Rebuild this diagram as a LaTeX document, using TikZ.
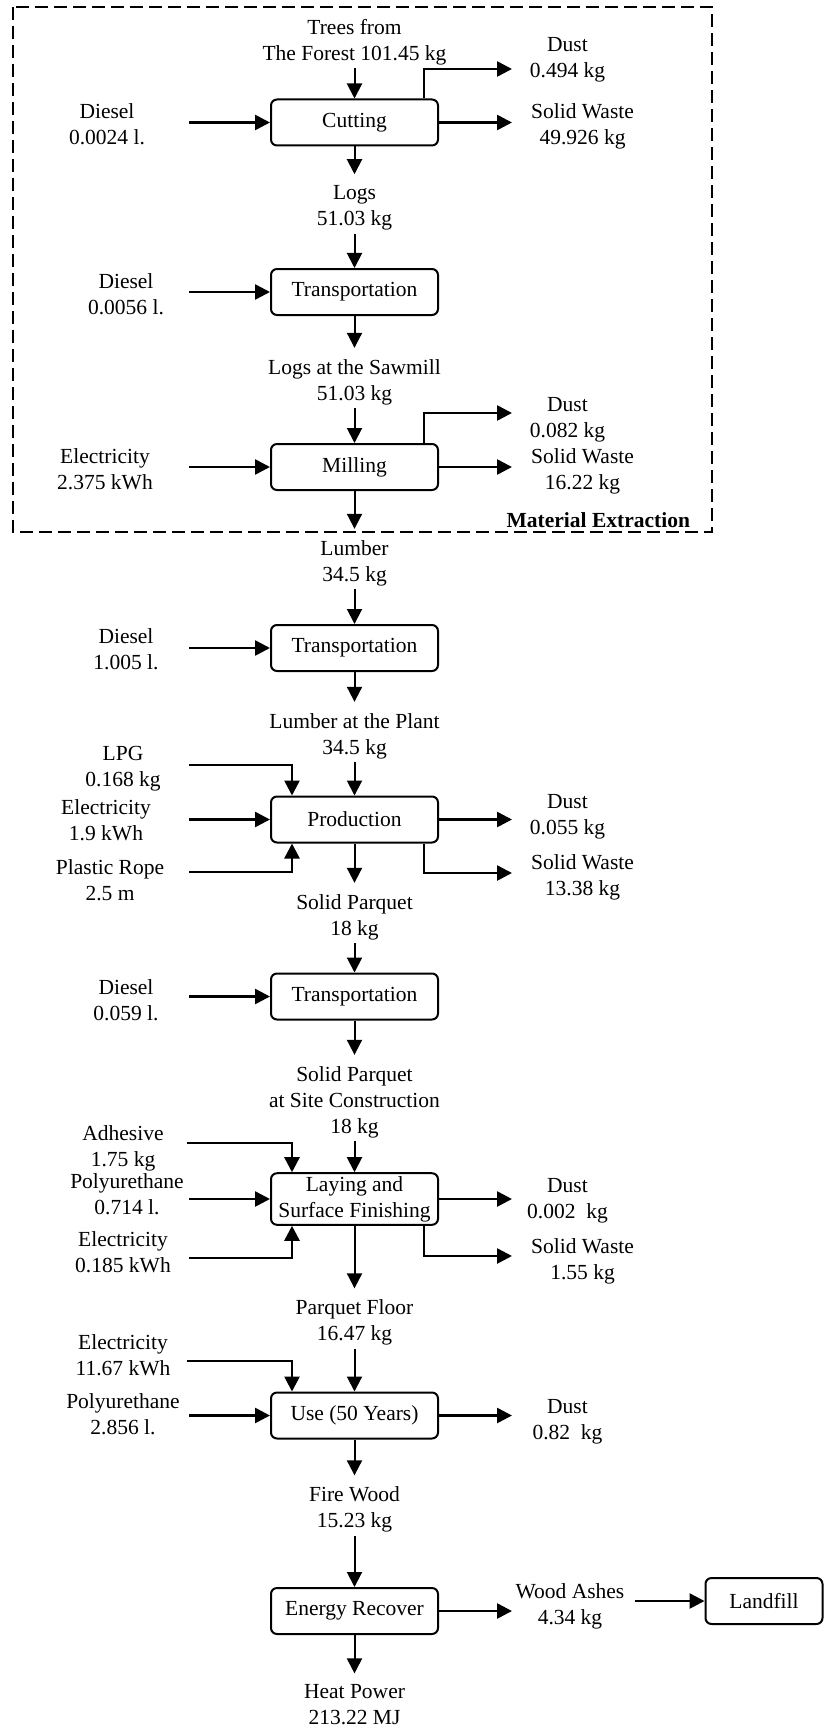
\documentclass[tikz,border=0pt]{standalone}
\usepackage{fontspec}
\setmainfont{Liberation Serif}
\usepackage{tikz}
\usetikzlibrary{arrows.meta}
\newcommand{\lcasize}{\fontsize{10.75}{13}\selectfont}
\tikzset{
  procbox/.style={draw, rounded corners=3pt, minimum height=23pt, minimum width=83.5pt,
      align=center, font=\lcasize, line width=1pt, inner xsep=2pt, inner ysep=1.5pt},
  flowlbl/.style={align=center, font=\lcasize, inner sep=1.5pt},
  myarrow/.style={-{Triangle[length=7.5pt, width=7.5pt]}, line width=1.3pt},
  mainarrow/.style={-{Triangle[length=7.5pt, width=7.5pt]}, line width=1pt},
  toflow/.style={shorten >=4pt},
  regionbox/.style={dash pattern=on 6.5pt off 3pt, line width=0.8pt},
  mylbl/.style={font=\lcasize\bfseries, anchor=east},
}

\begin{document}
\begin{tikzpicture}[x=0.5pt, y=-0.5pt]
      \useasboundingbox (0,0) rectangle (824,1728);
      \coordinate (inx) at (189,0);
      \coordinate (outx) at (512,0);

      % === Material Extraction (dashed region) ===
      \draw[regionbox] (13,7) rectangle (712,532);
      \node[mylbl] (matext) at (697,520) {Material Extraction};

      % Cutting
      \node[flowlbl] (trees) at (354.5,42) {Trees from\\The Forest 101.45 kg};
      \node[procbox] (cut) at (354.5,122.5) {Cutting};
      \node[flowlbl] (dsl1) at (107,124) {Diesel\\0.0024 l.};
      \node[flowlbl] (dust1) at (567.5,59.5) {Dust\\0.494 kg};
      \node[flowlbl] (sw1) at (582.5,126.5) {Solid Waste\\49.926 kg};
      \coordinate (dust1out) at (512,69);
      \draw[mainarrow] (trees) -- (cut);
      \draw[myarrow] (cut.west -| inx) -- (cut.west);
      \draw[myarrow] ([xshift=-7.5pt]cut.north east) |- (dust1out);
      \draw[myarrow] (cut.east) -- (cut.east -| outx);

      % Transportation to the sawmill
      \node[flowlbl] (logs) at (354.5,208) {Logs\\51.03 kg};
      \node[procbox] (trans1) at (354.5,292) {Transportation};
      \node[flowlbl] (dsl2) at (126,294) {Diesel\\0.0056 l.};
      \draw[mainarrow, toflow] (cut) -- (logs);
      \draw[mainarrow] (logs) -- (trans1);
      \draw[myarrow] (trans1.west -| inx) -- (trans1.west);

      % Milling
      \node[flowlbl] (logsmill) at (354.5,382) {Logs at the Sawmill\\51.03 kg};
      \node[procbox] (mill) at (354.5,467) {Milling};
      \node[flowlbl] (elec1) at (105,469) {Electricity\\2.375 kWh};
      \node[flowlbl] (dust2) at (567.5,419.5) {Dust\\0.082 kg};
      \node[flowlbl] (sw2) at (582.5,471.5) {Solid Waste\\16.22 kg};
      \coordinate (dust2out) at (512,413);
      \draw[mainarrow, toflow] (trans1) -- (logsmill);
      \draw[mainarrow] (logsmill) -- (mill);
      \draw[myarrow] (mill.west -| inx) -- (mill.west);
      \draw[myarrow] ([xshift=-7.5pt]mill.north east) |- (dust2out);
      \draw[myarrow] (mill.east) -- (mill.east -| outx);

      % === Transportation to the plant ===
      \node[flowlbl] (lumber) at (354.5,563) {Lumber\\34.5 kg};
      \node[procbox] (trans2) at (354.5,648) {Transportation};
      \node[flowlbl] (dsl3) at (126,649) {Diesel\\1.005 l.};
      \draw[mainarrow, toflow] (mill) -- (lumber);
      \draw[mainarrow] (lumber) -- (trans2);
      \draw[myarrow] (trans2.west -| inx) -- (trans2.west);

      % === Production ===
      \node[flowlbl] (lumberplant) at (354.5,736) {Lumber at the Plant\\34.5 kg};
      \node[procbox] (prod) at (354.5,819.5) {Production};
      \node[flowlbl] (lpg) at (123,769) {LPG\\0.168 kg};
      \node[flowlbl] (elec2) at (106,820) {Electricity\\1.9 kWh};
      \node[flowlbl] (rope) at (110,880) {Plastic Rope\\2.5 m};
      \node[flowlbl] (dust3) at (567.5,816.5) {Dust\\0.055 kg};
      \node[flowlbl] (sw3) at (582.5,877) {Solid Waste\\13.38 kg};
      \coordinate (lpgin) at (189,765);
      \coordinate (ropein) at (189,872);
      \coordinate (sw3out) at (512,873);
      \draw[mainarrow, toflow] (trans2) -- (lumberplant);
      \draw[mainarrow] (lumberplant) -- (prod);
      \draw[myarrow] (lpgin) -| ([xshift=-31.25pt]prod.north);
      \draw[myarrow] (prod.west -| inx) -- (prod.west);
      \draw[myarrow] (ropein) -| ([xshift=-31.25pt]prod.south);
      \draw[myarrow] (prod.east) -- (prod.east -| outx);
      \draw[myarrow] ([xshift=-7.5pt]prod.south east) |- (sw3out);

      % === Transportation to the site ===
      \node[flowlbl] (solidpar) at (354.5,917) {Solid Parquet\\18 kg};
      \node[procbox] (trans3) at (354.5,996.5) {Transportation};
      \node[flowlbl] (dsl4) at (126,1000) {Diesel\\0.059 l.};
      \draw[mainarrow, toflow] (prod) -- (solidpar);
      \draw[mainarrow] (solidpar) -- (trans3);
      \draw[myarrow] (trans3.west -| inx) -- (trans3.west);

      % === Laying and surface finishing ===
      \node[flowlbl] (solidsite) at (354.5,1102) {Solid Parquet\\at Site Construction\\18 kg};
      \node[procbox] (lay) at (354.5,1199) {Laying and\\Surface Finishing};
      \node[flowlbl] (adh) at (123,1148) {Adhesive\\1.75 kg};
      \node[flowlbl] (poly1) at (127,1194) {Polyurethane\\0.714 l.};
      \node[flowlbl] (elec3) at (123,1252) {Electricity\\0.185 kWh};
      \node[flowlbl] (dust4) at (567.5,1200.5) {Dust\\0.002~~kg};
      \node[flowlbl] (sw4) at (582.5,1261) {Solid Waste\\1.55 kg};
      \coordinate (adhin) at (187,1143);
      \coordinate (elec3in) at (189,1258);
      \coordinate (sw4out) at (512,1256);
      \draw[mainarrow, toflow] (trans3) -- (solidsite);
      \draw[mainarrow] (solidsite) -- (lay);
      \draw[myarrow] (adhin) -| ([xshift=-31.25pt]lay.north);
      \draw[myarrow] (lay.west -| inx) -- (lay.west);
      \draw[myarrow] (elec3in) -| ([xshift=-31.25pt]lay.south);
      \draw[myarrow] (lay.east) -- (lay.east -| outx);
      \draw[myarrow] ([xshift=-7.5pt]lay.south east) |- (sw4out);

      % === Use ===
      \node[flowlbl] (parquet) at (354.5,1322.5) {Parquet Floor\\16.47 kg};
      \node[procbox] (use) at (354.5,1415.5) {Use (50 Years)};
      \node[flowlbl] (elec4) at (123,1355) {Electricity\\11.67 kWh};
      \node[flowlbl] (poly2) at (123,1414) {Polyurethane\\2.856 l.};
      \node[flowlbl] (dust5) at (567.5,1422) {Dust\\0.82~~kg};
      \coordinate (elec4in) at (187,1361);
      \draw[mainarrow, toflow] (lay) -- (parquet);
      \draw[mainarrow] (parquet) -- (use);
      \draw[myarrow] (elec4in) -| ([xshift=-31.25pt]use.north);
      \draw[myarrow] (use.west -| inx) -- (use.west);
      \draw[myarrow] (use.east) -- (use.east -| outx);

      % === End of life ===
      \node[flowlbl] (firewood) at (354.5,1509.5) {Fire Wood\\15.23 kg};
      \node[procbox] (enrec) at (354.5,1611) {Energy Recover};
      \node[flowlbl] (ashes) at (570,1606) {Wood Ashes\\4.34 kg};
      \node[procbox, minimum width=58.5pt] (landfill) at (764,1601) {Landfill};
      \node[flowlbl] (heat) at (354.5,1705) {Heat Power\\213.22 MJ};
      \coordinate (ashin) at (635,1601);
      \draw[mainarrow, toflow] (use) -- (firewood);
      \draw[mainarrow] (firewood) -- (enrec);
      \draw[myarrow] (enrec.east) -- (enrec.east -| outx);
      \draw[myarrow] (ashin) -- (landfill.west);
      \draw[mainarrow, toflow] (enrec) -- (heat);
    \end{tikzpicture}
\end{document}
